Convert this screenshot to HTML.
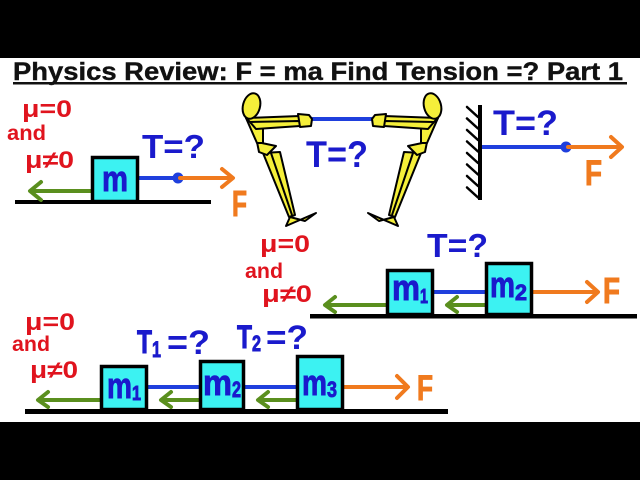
<!DOCTYPE html>
<html><head><meta charset="utf-8"><style>
html,body{margin:0;padding:0;background:#fff;}
svg{display:block;}
text{font-family:"Liberation Sans",Arial,sans-serif;font-weight:bold;}
</style></head><body>
<svg width="640" height="480" viewBox="0 0 640 480" xmlns="http://www.w3.org/2000/svg">
<rect x="0" y="0" width="640" height="480" fill="#fff"/>
<rect x="0" y="0" width="640" height="58" fill="#000"/>
<rect x="0" y="422" width="640" height="58" fill="#000"/>

<!-- Title -->
<text x="13" y="80" font-size="25" fill="#111" stroke="#111" stroke-width="0.4" textLength="610" lengthAdjust="spacingAndGlyphs">Physics Review: F = ma Find Tension =? Part 1</text>
<rect x="13" y="82" width="614" height="2.5" fill="#111"/>

<g fill="#e0141e">
<text x="22" y="117" font-size="24" textLength="50" lengthAdjust="spacingAndGlyphs">μ=0</text>
<text x="7" y="140" font-size="21" textLength="39" lengthAdjust="spacingAndGlyphs">and</text>
<text x="25" y="168" font-size="24" textLength="49" lengthAdjust="spacingAndGlyphs">μ≠0</text>
<text x="260" y="252" font-size="24" textLength="50" lengthAdjust="spacingAndGlyphs">μ=0</text>
<text x="245" y="278" font-size="21" textLength="38" lengthAdjust="spacingAndGlyphs">and</text>
<text x="262" y="302" font-size="24" textLength="50" lengthAdjust="spacingAndGlyphs">μ≠0</text>
<text x="25" y="330" font-size="24" textLength="50" lengthAdjust="spacingAndGlyphs">μ=0</text>
<text x="12" y="351" font-size="21" textLength="38" lengthAdjust="spacingAndGlyphs">and</text>
<text x="30" y="378" font-size="24" textLength="48" lengthAdjust="spacingAndGlyphs">μ≠0</text>
</g>

<!-- grounds -->
<g fill="#000">
<rect x="15" y="200" width="196" height="4"/>
<rect x="310" y="314" width="327" height="4.5"/>
<rect x="25" y="409" width="423" height="5"/>
<rect x="478" y="105" width="4" height="95"/>
</g>
<g stroke="#000" stroke-width="2.5" stroke-linecap="round">
<line x1="467" y1="107" x2="478" y2="117"/>
<line x1="467" y1="118.5" x2="478" y2="128.5"/>
<line x1="467" y1="130" x2="478" y2="140"/>
<line x1="467" y1="141.5" x2="478" y2="151.5"/>
<line x1="467" y1="153" x2="478" y2="163"/>
<line x1="467" y1="164.5" x2="478" y2="174.5"/>
<line x1="467" y1="176" x2="478" y2="186"/>
<line x1="467" y1="187.5" x2="478" y2="197.5"/>
</g>

<!-- blue ropes -->
<g stroke="#1f3fdd" stroke-width="4">
<line x1="138" y1="178" x2="178" y2="178"/>
<line x1="310" y1="119" x2="374" y2="119"/>
<line x1="482" y1="147" x2="566" y2="147"/>
<line x1="434" y1="292" x2="485" y2="292"/>
<line x1="148" y1="387" x2="199" y2="387"/>
<line x1="245" y1="387" x2="296" y2="387"/>
</g>
<circle cx="178" cy="178" r="5.5" fill="#1f3fdd"/>
<circle cx="566" cy="147" r="5.5" fill="#1f3fdd"/>

<!-- orange arrows -->
<g stroke="#f07a1e" stroke-width="4" fill="none" stroke-linecap="round" stroke-linejoin="round">
<line x1="180" y1="178" x2="232" y2="178"/><polyline points="222,169 233,178 222,187"/>
<line x1="568" y1="147" x2="621" y2="147"/><polyline points="611,137 622,147 611,157"/>
<line x1="533" y1="292" x2="597" y2="292"/><polyline points="587,282 598,292 587,302"/>
<line x1="344" y1="387" x2="407" y2="387"/><polyline points="397,376 408,387 397,398"/>
</g>

<!-- green arrows -->
<g stroke="#5a8f1e" stroke-width="4" fill="none" stroke-linecap="round" stroke-linejoin="round">
<line x1="91" y1="191" x2="31" y2="191"/><polyline points="41,182 30,191 41,200"/>
<line x1="386" y1="305" x2="326" y2="305"/><polyline points="335,297 325,305 335,312"/>
<line x1="485" y1="305" x2="448" y2="305"/><polyline points="457,297 447,305 457,312"/>
<line x1="100" y1="400" x2="39" y2="400"/><polyline points="48,392 38,400 48,407"/>
<line x1="199" y1="400" x2="162" y2="400"/><polyline points="171,392 161,400 171,407"/>
<line x1="296" y1="400" x2="259" y2="400"/><polyline points="268,392 258,400 268,407"/>
</g>

<!-- blocks -->
<g fill="#3cf2f2" stroke="#000" stroke-width="3.5">
<rect x="92.5" y="157.5" width="45" height="44"/>
<rect x="387.5" y="270.5" width="45" height="44"/>
<rect x="486.5" y="263.5" width="45" height="51"/>
<rect x="101.5" y="366.5" width="45" height="43"/>
<rect x="200.5" y="361.5" width="43" height="48"/>
<rect x="297.5" y="356.5" width="45" height="53"/>
</g>

<g fill="#1a1acc">
<g stroke="#1a1acc" stroke-width="0.9">
<text x="102" y="191" font-size="36" textLength="26" lengthAdjust="spacingAndGlyphs">m</text>
<text x="392" y="300" font-size="36" textLength="28" lengthAdjust="spacingAndGlyphs">m</text>
<text x="420" y="303" font-size="20" textLength="8" lengthAdjust="spacingAndGlyphs">1</text>
<text x="490" y="297" font-size="36" textLength="25" lengthAdjust="spacingAndGlyphs">m</text>
<text x="515" y="300" font-size="22" textLength="12" lengthAdjust="spacingAndGlyphs">2</text>
<text x="107" y="398" font-size="36" textLength="25" lengthAdjust="spacingAndGlyphs">m</text>
<text x="132" y="400" font-size="20" textLength="9" lengthAdjust="spacingAndGlyphs">1</text>
<text x="203" y="395" font-size="36" textLength="29" lengthAdjust="spacingAndGlyphs">m</text>
<text x="232" y="397" font-size="22" textLength="9" lengthAdjust="spacingAndGlyphs">2</text>
<text x="302" y="395" font-size="36" textLength="25" lengthAdjust="spacingAndGlyphs">m</text>
<text x="327" y="397" font-size="22" textLength="10" lengthAdjust="spacingAndGlyphs">3</text>
<text x="137" y="353" font-size="32" textLength="15" lengthAdjust="spacingAndGlyphs">T</text>
<text x="152" y="357" font-size="22" textLength="9" lengthAdjust="spacingAndGlyphs">1</text>
<text x="237" y="348" font-size="32" textLength="15" lengthAdjust="spacingAndGlyphs">T</text>
<text x="252" y="351" font-size="22" textLength="9" lengthAdjust="spacingAndGlyphs">2</text>
</g>
<text x="142" y="158" font-size="33" textLength="63" lengthAdjust="spacingAndGlyphs">T=?</text>
<text x="306" y="167" font-size="37" textLength="62" lengthAdjust="spacingAndGlyphs">T=?</text>
<text x="493" y="135" font-size="35" textLength="65" lengthAdjust="spacingAndGlyphs">T=?</text>
<text x="427" y="257" font-size="33" textLength="61" lengthAdjust="spacingAndGlyphs">T=?</text>
<text x="167" y="354" font-size="34" textLength="43" lengthAdjust="spacingAndGlyphs">=?</text>
<text x="266" y="349" font-size="34" textLength="42" lengthAdjust="spacingAndGlyphs">=?</text>
</g>

<g fill="#f07a1e" stroke="#f07a1e" stroke-width="1">
<text x="232" y="216" font-size="36" textLength="15" lengthAdjust="spacingAndGlyphs">F</text>
<text x="585" y="185" font-size="35" textLength="17" lengthAdjust="spacingAndGlyphs">F</text>
<text x="603" y="303" font-size="36" textLength="17" lengthAdjust="spacingAndGlyphs">F</text>
<text x="417" y="400" font-size="35" textLength="16" lengthAdjust="spacingAndGlyphs">F</text>
</g>

<!-- stick figures -->
<defs>
<g id="fig" fill="#f5ef3a" stroke="#000" stroke-width="2" stroke-linejoin="round">
  <polygon points="263,153 280,152 295,215 289,217"/>
  <line x1="271" y1="153" x2="292" y2="215"/>
  <polygon points="286,226 316,213 305,221 290,217"/>
  <polygon points="257,142 276,146 267,155 259,152"/>
  <polygon points="246,118 263,121 263,143 257,143"/>
  <polygon points="246,118 300,116 301,121 252,124"/>
  <polygon points="250,122 300,121 300,126 256,129"/>
  <polygon points="298,114 309,115 312,119 311,126 300,127"/>
  <ellipse cx="251.5" cy="106" rx="8.5" ry="13" transform="rotate(15 251.5 106)"/>
</g>
</defs>
<use href="#fig"/>
<use href="#fig" transform="matrix(-1 0 0 1 684 0)"/>
</svg>
</body></html>
